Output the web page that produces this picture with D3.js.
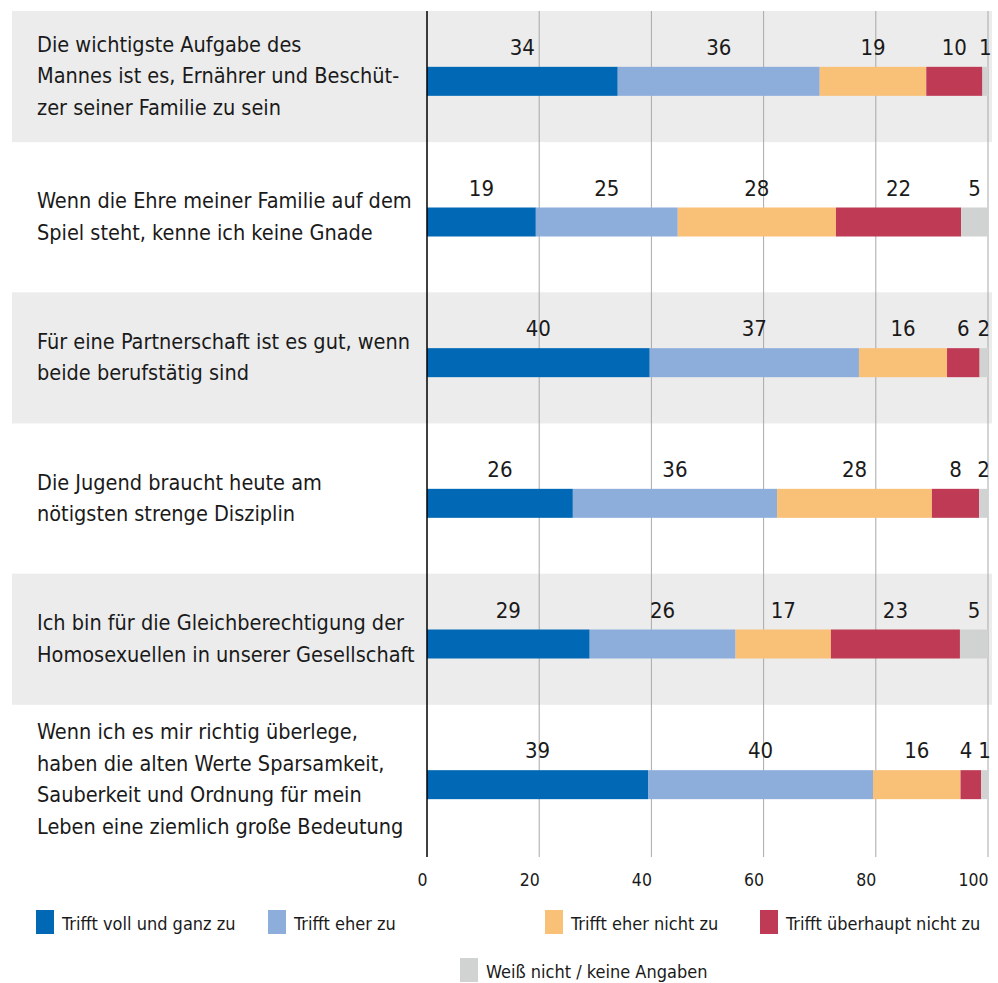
<!DOCTYPE html>
<meta charset="utf-8">
<style>
  body { margin: 0; background: #fff; }
  svg { display: block; font-family: "Liberation Sans Narrow", "DejaVu Sans Condensed", sans-serif; }
</style>
<body>
<div id="vis"></div>
<script src="https://cdn.jsdelivr.net/npm/d3@7"></script>
<script>

const width = 998,
    height = 983;

// statements, one array of text lines each
const statements = [
  ['Die wichtigste Aufgabe des', 'Mannes ist es, Ernährer und Beschüt-', 'zer seiner Familie zu sein'],
  ['Wenn die Ehre meiner Familie auf dem', 'Spiel steht, kenne ich keine Gnade'],
  ['Für eine Partnerschaft ist es gut, wenn', 'beide berufstätig sind'],
  ['Die Jugend braucht heute am', 'nötigsten strenge Disziplin'],
  ['Ich bin für die Gleichberechtigung der', 'Homosexuellen in unserer Gesellschaft'],
  ['Wenn ich es mir richtig überlege,', 'haben die alten Werte Sparsamkeit,', 'Sauberkeit und Ordnung für mein', 'Leben eine ziemlich große Bedeutung']
];

const seriesNames = ['Trifft voll und ganz zu', 'Trifft eher zu', 'Trifft eher nicht zu', 'Trifft überhaupt nicht zu', 'Weiß nicht / keine Angaben'];

// percent values per statement (labels are rounded)
const vollUndGanz     = [34, 19.4, 39.7, 26,   29, 39.4];
const eherZu          = [36, 25.3, 37.3, 36.4, 26, 40.1];
const eherNicht       = [19, 28.2, 15.7, 27.6, 17, 15.6];
const ueberhauptNicht = [10, 22.3, 5.8,  8.4,  23, 3.7];
const weissNicht      = [1,  4.8,  1.5,  1.6,  5,  1.2];

const tickValues = [0, 20, 40, 60, 80, 100];

const colors = ['#0068b4', '#8daedb', '#f9c077', '#be3a55', '#d1d2d2'];

const series = [vollUndGanz, eherZu, eherNicht, ueberhauptNicht, weissNicht];

// one row object per statement for d3.stack
const table = statements.map((s, i) => {
  let row = {index: i};
  seriesNames.forEach((n, k) => { row[n] = series[k][i]; });
  return row;
});
const stacked = d3.stack().keys(seriesNames)(table);

const svg = d3.select('#vis')
  .append('svg')
  .attr('width', width)
  .attr('height', height);

const x = d3.scaleLinear()
  .domain([0, 100])
  .range([427, 988]);

const y = d3.scaleBand()
  .domain(d3.range(statements.length))
  .range([11, 855]);

const step = y.step();
const barH = 29;

// alternating grey bands
svg.append('g').selectAll('rect')
  .data(statements.map((s, i) => i).filter(i => i % 2 == 0))
  .enter().append('rect')
  .attr('x', 12)
  .attr('width', 980)
  .attr('y', i => y(i))
  .attr('height', step * 0.932)
  .style('fill', '#ececec');

// gridlines
svg.append('g').selectAll('line')
  .data(tickValues.slice(1))
  .enter().append('line')
  .attr('x1', d => x(d)).attr('x2', d => x(d))
  .attr('y1', 11).attr('y2', 857)
  .style('stroke', '#a9a9a9')
  .style('stroke-width', 1);

// bars
const layer = svg.append('g').selectAll('g')
  .data(stacked)
  .enter().append('g')
  .style('fill', (d, k) => colors[k]);

layer.selectAll('rect')
  .data(d => d)
  .enter().append('rect')
  .attr('x', d => x(d[0]))
  .attr('width', d => x(d[1]) - x(d[0]))
  .attr('y', d => y(d.data.index) + step / 2 - barH / 2)
  .attr('height', barH);

// value labels
const labelG = svg.append('g');
stacked.forEach((s, k) => {
  labelG.selectAll('.lbl-' + k)
    .data(s)
    .enter().append('text')
    .attr('class', d => 'lbl-' + k + ' row-' + d.data.index)
    .attr('x', d => x((d[0] + d[1]) / 2))
    .attr('y', d => y(d.data.index) + step / 2 - barH / 2 - 12)
    .style('fill', '#1a1a1a')
    .style('font-size', '22px')
    .style('text-anchor', 'middle')
    .text(d => Math.round(d[1] - d[0]));
});

// push crowded labels to the left, starting from the right end
statements.forEach((s, i) => {
  let nodes = labelG.selectAll('.row-' + i).nodes();
  for (let k = nodes.length - 2; k >= 0; k--) {
    let a = nodes[k], b = nodes[k + 1];
    let aw = a.getComputedTextLength(), bw = b.getComputedTextLength();
    let ax = +a.getAttribute('x'), bx = +b.getAttribute('x');
    let overlap = (ax + aw / 2 + 6) - (bx - bw / 2);
    if (overlap > 0) a.setAttribute('x', ax - overlap);
  }
});

// zero line
svg.append('line')
  .attr('x1', x(0)).attr('x2', x(0))
  .attr('y1', 11).attr('y2', 857)
  .style('stroke', '#000')
  .style('stroke-width', 1.5);

// statement texts
const lineH = 31.5;
svg.append('g').selectAll('text')
  .data(statements)
  .enter().append('text')
  .attr('x', 37)
  .attr('y', (d, i) => y(i) + step / 2 - 6 - (d.length - 1) * lineH / 2 + 8)
  .style('font-size', '21.5px')
  .style('fill', '#1a1a1a')
  .each(function(d) {
    d3.select(this).selectAll('tspan')
      .data(d)
      .enter().append('tspan')
      .attr('x', 37)
      .attr('dy', (l, j) => j == 0 ? 0 : lineH)
      .text(l => l);
  });

// x axis, labels end at their tick
const axis = svg.append('g')
  .attr('transform', 'translate(0,857)')
  .call(d3.axisBottom(x).tickValues(tickValues).tickSize(0).tickPadding(17));
axis.select('.domain').remove();
axis.selectAll('text')
  .attr('text-anchor', 'end')
  .style('font-family', '"Liberation Sans Narrow", "DejaVu Sans Condensed", sans-serif')
  .style('font-size', '17.5px')
  .style('fill', '#1a1a1a');

// legend
const legendPos = [[36, 910], [268, 910], [545, 910], [760, 910], [460, 958]];
const legend = svg.append('g').selectAll('g')
  .data(seriesNames)
  .enter().append('g')
  .attr('transform', (d, k) => 'translate(' + legendPos[k] + ')');
legend.append('rect')
  .attr('width', 18)
  .attr('height', 24)
  .style('fill', (d, k) => colors[k]);
legend.append('text')
  .attr('x', 26)
  .attr('y', 20)
  .style('font-size', '18px')
  .style('fill', '#1a1a1a')
  .text(d => d);

</script>
</body>
